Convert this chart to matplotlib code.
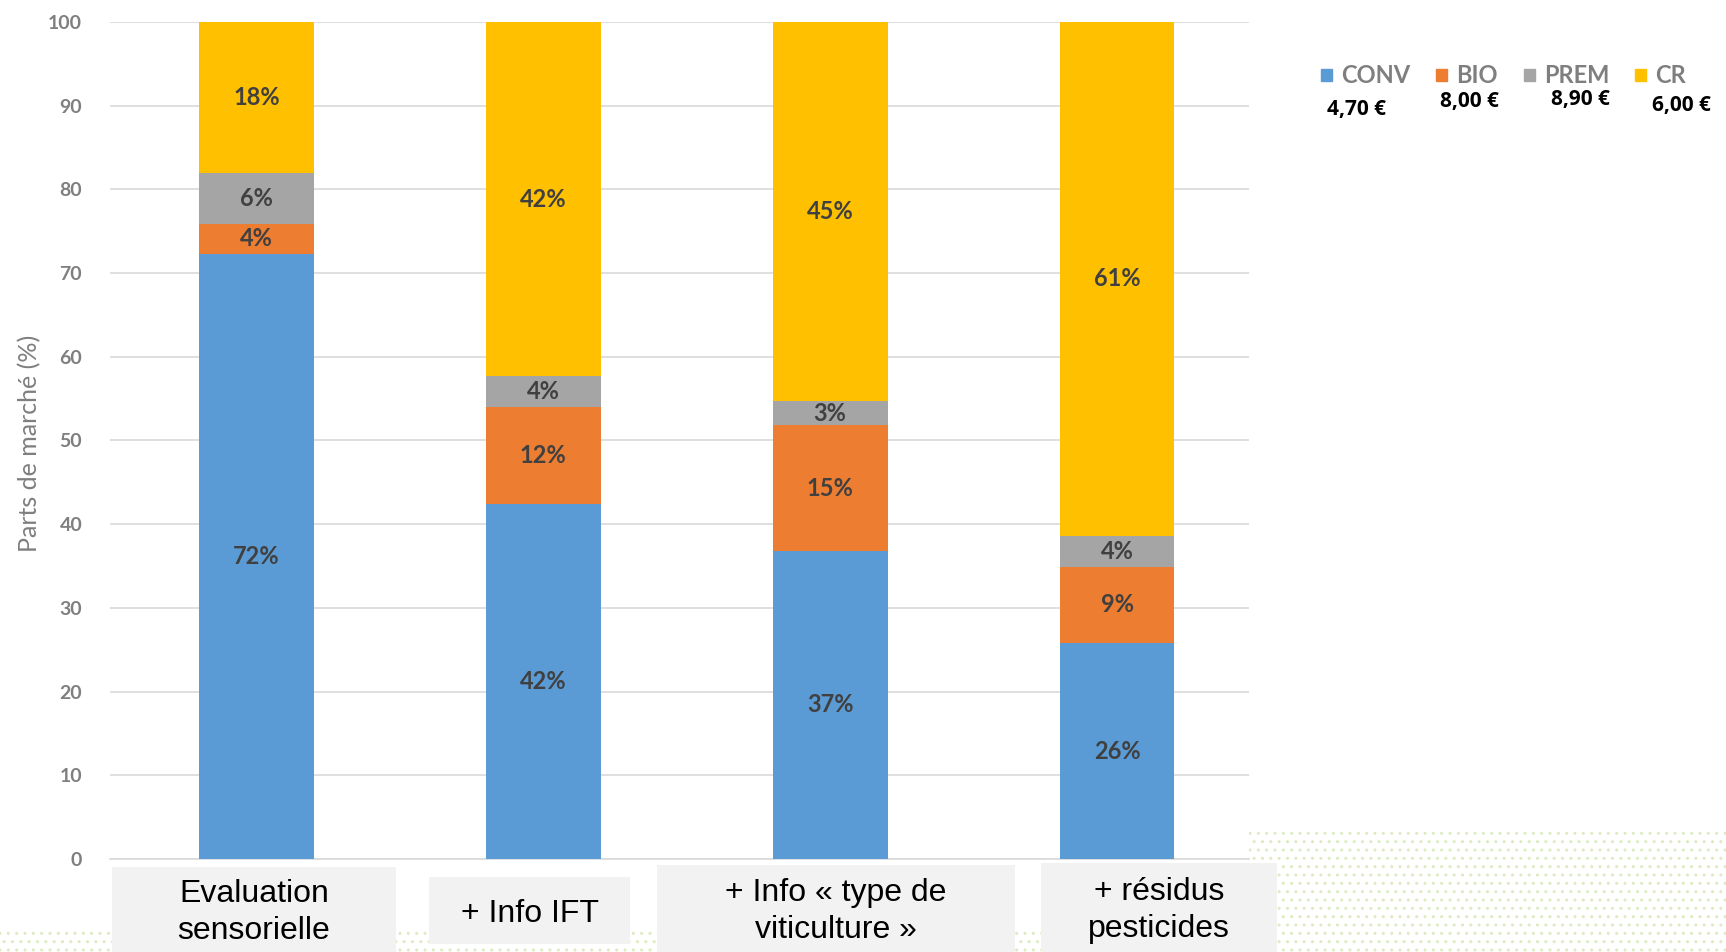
import matplotlib

matplotlib.use("Agg")

import matplotlib.pyplot as plt
from matplotlib.patches import Rectangle

# market shares (%) per scenario
CATEGORIES = ["Evaluation\nsensorielle", "+ Info IFT", "+ Info « type de\nviticulture »", "+ résidus\npesticides"]
SERIES = ["CONV", "BIO", "PREM", "CR"]
PRICES = ["4,70 €", "8,00 €", "8,90 €", "6,00 €"]
CONV = [72.3, 42.4, 36.8, 25.8]
BIO = [3.6, 11.6, 15.0, 9.1]
PREM = [6.0, 3.7, 2.9, 3.7]
CR = [18.1, 42.3, 45.3, 61.4]

COLORS = ["#5B9BD5", "#ED7D31", "#A5A5A5", "#FFC000"]
W, H = 1726, 952


def fx(px):
    return px / W


def fy(py):
    return 1 - py / H


fig = plt.figure(figsize=(W / 100, H / 100), dpi=100)
fig.patch.set_facecolor("white")

# dotted green slide background
for x0, y0, x1, y1 in [(1249, 831, W, H), (0, 930, W, H)]:
    fig.patches.append(Rectangle((fx(x0), fy(y1)), fx(x1 - x0), fy(y0) - fy(y1),
                                 transform=fig.transFigure, facecolor="white",
                                 edgecolor="#dcebc0", hatch="..", lw=0, zorder=0))

ax = fig.add_axes([fx(110), fy(859), fx(1249 - 110), fy(22) - fy(859)])
ax.set_facecolor("white")
ax.set_zorder(2)

xs = range(len(CATEGORIES))
bottom = [0.0] * len(CATEGORIES)
for values, color in zip([CONV, BIO, PREM, CR], COLORS):
    ax.bar(xs, values, bottom=bottom, width=0.4, color=color, zorder=3)
    for x, b, v in zip(xs, bottom, values):
        ax.text(x, b + v / 2, f"{v:.0f}%", ha="center", va="center",
                fontsize=17, fontweight="bold", color="#404040",
                family=["Lato", "DejaVu Sans"], zorder=4)
    bottom = [b + v for b, v in zip(bottom, values)]

ax.set_xlim(-0.51, 3.46)
ax.set_ylim(0, 100)
ax.set_yticks(range(0, 101, 10))
ax.set_xticks([])
ax.grid(axis="y", color="#D9D9D9", lw=1.2, zorder=0)
ax.set_axisbelow(True)
for side in ["left", "right", "top"]:
    ax.spines[side].set_visible(False)
ax.spines["bottom"].set_color("#D9D9D9")
ax.spines["bottom"].set_linewidth(1.2)
ax.tick_params(axis="y", length=0, pad=20, labelsize=14, labelcolor="#7f7f7f")
for lab in ax.get_yticklabels():
    lab.set_family(["Lato", "DejaVu Sans"])
    lab.set_fontweight("bold")

fig.text(fx(30), fy(443), "Parts de marché (%)", rotation=90, ha="center", va="center",
         fontsize=18, color="#7f7f7f", family=["Lato", "DejaVu Sans"])

# category label boxes
boxes = [(112, 867, 396, 952), (429, 877, 630, 944), (657, 865, 1015, 952), (1041, 863, 1277, 952)]
for (x0, y0, x1, y1), label in zip(boxes, CATEGORIES):
    fig.patches.append(Rectangle((fx(x0), fy(y1)), fx(x1 - x0), fy(y0) - fy(y1),
                                 transform=fig.transFigure, facecolor="#F2F2F2",
                                 edgecolor="none", zorder=1))
    fig.text(fx((x0 + x1) / 2), fy((y0 + y1) / 2 + 3), label, ha="center", va="center",
             fontsize=23, color="black", linespacing=1.3,
             family=["Liberation Sans Narrow", "Liberation Sans"], zorder=2)

# legend with prices
handles = [Rectangle((0, 0), 1, 1, color=c) for c in COLORS]
leg = fig.legend(handles, SERIES, ncol=4, loc="center left", bbox_to_anchor=(fx(1300), fy(76)),
                 frameon=False, handlelength=0.45, handleheight=0.45, handletextpad=0.4,
                 columnspacing=1.1, prop={"family": ["Lato", "DejaVu Sans"], "weight": "bold", "size": 17})
for t in leg.get_texts():
    t.set_color("#7f7f7f")

price_pos = [(1356, 109), (1469, 102), (1580, 100), (1681, 106)]
for (px, py), p in zip(price_pos, PRICES):
    fig.text(fx(px), fy(py), p, ha="center", va="center", fontsize=15, fontweight="bold",
             color="black", family=["Open Sans", "DejaVu Sans"])

fig.savefig("out.png", dpi=100)
